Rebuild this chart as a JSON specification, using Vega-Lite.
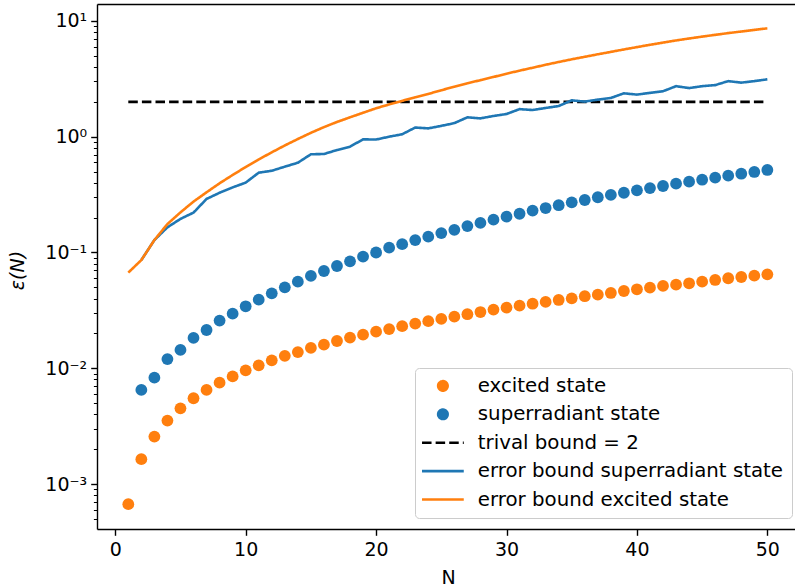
{
  "$schema": "https://vega.github.io/schema/vega-lite/v6.json",
  "width": 698,
  "height": 525,
  "autosize": {"type": "none"},
  "padding": {"left": 97, "top": 4, "right": 0, "bottom": 59},
  "config": {
    "view": {"stroke": null},
    "font": "DejaVu Sans",
    "axis": {"labelFont": "DejaVu Sans", "labelFontSize": 19, "labelColor": "#000000", "titleFont": "DejaVu Sans", "titleFontSize": 19, "titleFontWeight": "normal", "titleColor": "#000000", "domainColor": "#000000", "domainWidth": 1.4, "tickColor": "#000000", "tickWidth": 1.4, "tickSize": 6.3, "grid": false, "labelPadding": 4},
    "legend": {"labelFontSize": 19.8, "labelFont": "DejaVu Sans", "labelColor": "#000000", "labelLimit": 0, "symbolSize": 90, "symbolStrokeWidth": 2.6, "symbolOffset": 10, "labelOffset": 25, "rowPadding": 7.4, "padding": 8, "strokeColor": "#cccccc", "fillColor": "rgba(255,255,255,0.8)", "cornerRadius": 4, "symbolOpacity": 1}
  },
  "datasets": {
    "pts": [
      {"N": 1, "v": 0.00067, "s": "excited state"},
      {"N": 2, "v": 0.00164, "s": "excited state"},
      {"N": 3, "v": 0.00257, "s": "excited state"},
      {"N": 4, "v": 0.00353, "s": "excited state"},
      {"N": 5, "v": 0.00451, "s": "excited state"},
      {"N": 6, "v": 0.00551, "s": "excited state"},
      {"N": 7, "v": 0.0065, "s": "excited state"},
      {"N": 8, "v": 0.00751, "s": "excited state"},
      {"N": 9, "v": 0.0085, "s": "excited state"},
      {"N": 10, "v": 0.0096, "s": "excited state"},
      {"N": 11, "v": 0.0106, "s": "excited state"},
      {"N": 12, "v": 0.0117, "s": "excited state"},
      {"N": 13, "v": 0.0128, "s": "excited state"},
      {"N": 14, "v": 0.0138, "s": "excited state"},
      {"N": 15, "v": 0.015, "s": "excited state"},
      {"N": 16, "v": 0.016, "s": "excited state"},
      {"N": 17, "v": 0.0172, "s": "excited state"},
      {"N": 18, "v": 0.0184, "s": "excited state"},
      {"N": 19, "v": 0.0195, "s": "excited state"},
      {"N": 20, "v": 0.0207, "s": "excited state"},
      {"N": 21, "v": 0.0218, "s": "excited state"},
      {"N": 22, "v": 0.0231, "s": "excited state"},
      {"N": 23, "v": 0.0243, "s": "excited state"},
      {"N": 24, "v": 0.0255, "s": "excited state"},
      {"N": 25, "v": 0.0267, "s": "excited state"},
      {"N": 26, "v": 0.0279, "s": "excited state"},
      {"N": 27, "v": 0.0293, "s": "excited state"},
      {"N": 28, "v": 0.0306, "s": "excited state"},
      {"N": 29, "v": 0.0321, "s": "excited state"},
      {"N": 30, "v": 0.0334, "s": "excited state"},
      {"N": 31, "v": 0.0347, "s": "excited state"},
      {"N": 32, "v": 0.0361, "s": "excited state"},
      {"N": 33, "v": 0.0374, "s": "excited state"},
      {"N": 34, "v": 0.0389, "s": "excited state"},
      {"N": 35, "v": 0.0402, "s": "excited state"},
      {"N": 36, "v": 0.0419, "s": "excited state"},
      {"N": 37, "v": 0.0432, "s": "excited state"},
      {"N": 38, "v": 0.0447, "s": "excited state"},
      {"N": 39, "v": 0.0465, "s": "excited state"},
      {"N": 40, "v": 0.0481, "s": "excited state"},
      {"N": 41, "v": 0.0497, "s": "excited state"},
      {"N": 42, "v": 0.0514, "s": "excited state"},
      {"N": 43, "v": 0.0527, "s": "excited state"},
      {"N": 44, "v": 0.0542, "s": "excited state"},
      {"N": 45, "v": 0.056, "s": "excited state"},
      {"N": 46, "v": 0.0579, "s": "excited state"},
      {"N": 47, "v": 0.0599, "s": "excited state"},
      {"N": 48, "v": 0.0614, "s": "excited state"},
      {"N": 49, "v": 0.0631, "s": "excited state"},
      {"N": 50, "v": 0.0648, "s": "excited state"},
      {"N": 2, "v": 0.0065, "s": "superradiant state"},
      {"N": 3, "v": 0.0083, "s": "superradiant state"},
      {"N": 4, "v": 0.012, "s": "superradiant state"},
      {"N": 5, "v": 0.0144, "s": "superradiant state"},
      {"N": 6, "v": 0.0183, "s": "superradiant state"},
      {"N": 7, "v": 0.0214, "s": "superradiant state"},
      {"N": 8, "v": 0.0258, "s": "superradiant state"},
      {"N": 9, "v": 0.0296, "s": "superradiant state"},
      {"N": 10, "v": 0.0343, "s": "superradiant state"},
      {"N": 11, "v": 0.0391, "s": "superradiant state"},
      {"N": 12, "v": 0.0444, "s": "superradiant state"},
      {"N": 13, "v": 0.05, "s": "superradiant state"},
      {"N": 14, "v": 0.056, "s": "superradiant state"},
      {"N": 15, "v": 0.0627, "s": "superradiant state"},
      {"N": 16, "v": 0.0692, "s": "superradiant state"},
      {"N": 17, "v": 0.0764, "s": "superradiant state"},
      {"N": 18, "v": 0.0839, "s": "superradiant state"},
      {"N": 19, "v": 0.092, "s": "superradiant state"},
      {"N": 20, "v": 0.1, "s": "superradiant state"},
      {"N": 21, "v": 0.11, "s": "superradiant state"},
      {"N": 22, "v": 0.118, "s": "superradiant state"},
      {"N": 23, "v": 0.128, "s": "superradiant state"},
      {"N": 24, "v": 0.137, "s": "superradiant state"},
      {"N": 25, "v": 0.147, "s": "superradiant state"},
      {"N": 26, "v": 0.157, "s": "superradiant state"},
      {"N": 27, "v": 0.169, "s": "superradiant state"},
      {"N": 28, "v": 0.18, "s": "superradiant state"},
      {"N": 29, "v": 0.192, "s": "superradiant state"},
      {"N": 30, "v": 0.204, "s": "superradiant state"},
      {"N": 31, "v": 0.216, "s": "superradiant state"},
      {"N": 32, "v": 0.23, "s": "superradiant state"},
      {"N": 33, "v": 0.242, "s": "superradiant state"},
      {"N": 34, "v": 0.256, "s": "superradiant state"},
      {"N": 35, "v": 0.271, "s": "superradiant state"},
      {"N": 36, "v": 0.284, "s": "superradiant state"},
      {"N": 37, "v": 0.3, "s": "superradiant state"},
      {"N": 38, "v": 0.314, "s": "superradiant state"},
      {"N": 39, "v": 0.328, "s": "superradiant state"},
      {"N": 40, "v": 0.344, "s": "superradiant state"},
      {"N": 41, "v": 0.36, "s": "superradiant state"},
      {"N": 42, "v": 0.375, "s": "superradiant state"},
      {"N": 43, "v": 0.393, "s": "superradiant state"},
      {"N": 44, "v": 0.409, "s": "superradiant state"},
      {"N": 45, "v": 0.425, "s": "superradiant state"},
      {"N": 46, "v": 0.443, "s": "superradiant state"},
      {"N": 47, "v": 0.461, "s": "superradiant state"},
      {"N": 48, "v": 0.479, "s": "superradiant state"},
      {"N": 49, "v": 0.496, "s": "superradiant state"},
      {"N": 50, "v": 0.516, "s": "superradiant state"}
    ],
    "lines": [
      {"N": 1, "v": 2, "s": "trival bound = 2"},
      {"N": 50, "v": 2, "s": "trival bound = 2"},
      {"N": 2, "v": 0.086, "s": "error bound superradiant state"},
      {"N": 3, "v": 0.128, "s": "error bound superradiant state"},
      {"N": 4, "v": 0.165, "s": "error bound superradiant state"},
      {"N": 5, "v": 0.195, "s": "error bound superradiant state"},
      {"N": 6, "v": 0.221, "s": "error bound superradiant state"},
      {"N": 7, "v": 0.29, "s": "error bound superradiant state"},
      {"N": 8, "v": 0.328, "s": "error bound superradiant state"},
      {"N": 9, "v": 0.365, "s": "error bound superradiant state"},
      {"N": 10, "v": 0.401, "s": "error bound superradiant state"},
      {"N": 11, "v": 0.489, "s": "error bound superradiant state"},
      {"N": 12, "v": 0.508, "s": "error bound superradiant state"},
      {"N": 13, "v": 0.551, "s": "error bound superradiant state"},
      {"N": 14, "v": 0.596, "s": "error bound superradiant state"},
      {"N": 15, "v": 0.705, "s": "error bound superradiant state"},
      {"N": 16, "v": 0.709, "s": "error bound superradiant state"},
      {"N": 17, "v": 0.767, "s": "error bound superradiant state"},
      {"N": 18, "v": 0.82, "s": "error bound superradiant state"},
      {"N": 19, "v": 0.949, "s": "error bound superradiant state"},
      {"N": 20, "v": 0.945, "s": "error bound superradiant state"},
      {"N": 21, "v": 1.0, "s": "error bound superradiant state"},
      {"N": 22, "v": 1.05, "s": "error bound superradiant state"},
      {"N": 23, "v": 1.2, "s": "error bound superradiant state"},
      {"N": 24, "v": 1.18, "s": "error bound superradiant state"},
      {"N": 25, "v": 1.24, "s": "error bound superradiant state"},
      {"N": 26, "v": 1.31, "s": "error bound superradiant state"},
      {"N": 27, "v": 1.47, "s": "error bound superradiant state"},
      {"N": 28, "v": 1.44, "s": "error bound superradiant state"},
      {"N": 29, "v": 1.51, "s": "error bound superradiant state"},
      {"N": 30, "v": 1.57, "s": "error bound superradiant state"},
      {"N": 31, "v": 1.73, "s": "error bound superradiant state"},
      {"N": 32, "v": 1.7, "s": "error bound superradiant state"},
      {"N": 33, "v": 1.77, "s": "error bound superradiant state"},
      {"N": 34, "v": 1.84, "s": "error bound superradiant state"},
      {"N": 35, "v": 2.06, "s": "error bound superradiant state"},
      {"N": 36, "v": 2.01, "s": "error bound superradiant state"},
      {"N": 37, "v": 2.09, "s": "error bound superradiant state"},
      {"N": 38, "v": 2.16, "s": "error bound superradiant state"},
      {"N": 39, "v": 2.37, "s": "error bound superradiant state"},
      {"N": 40, "v": 2.31, "s": "error bound superradiant state"},
      {"N": 41, "v": 2.39, "s": "error bound superradiant state"},
      {"N": 42, "v": 2.47, "s": "error bound superradiant state"},
      {"N": 43, "v": 2.73, "s": "error bound superradiant state"},
      {"N": 44, "v": 2.63, "s": "error bound superradiant state"},
      {"N": 45, "v": 2.73, "s": "error bound superradiant state"},
      {"N": 46, "v": 2.79, "s": "error bound superradiant state"},
      {"N": 47, "v": 3.02, "s": "error bound superradiant state"},
      {"N": 48, "v": 2.93, "s": "error bound superradiant state"},
      {"N": 49, "v": 3.02, "s": "error bound superradiant state"},
      {"N": 50, "v": 3.13, "s": "error bound superradiant state"},
      {"N": 1, "v": 0.067, "s": "error bound excited state"},
      {"N": 2, "v": 0.086, "s": "error bound excited state"},
      {"N": 3, "v": 0.128, "s": "error bound excited state"},
      {"N": 4, "v": 0.176, "s": "error bound excited state"},
      {"N": 5, "v": 0.222, "s": "error bound excited state"},
      {"N": 6, "v": 0.275, "s": "error bound excited state"},
      {"N": 7, "v": 0.331, "s": "error bound excited state"},
      {"N": 8, "v": 0.396, "s": "error bound excited state"},
      {"N": 9, "v": 0.467, "s": "error bound excited state"},
      {"N": 10, "v": 0.547, "s": "error bound excited state"},
      {"N": 11, "v": 0.636, "s": "error bound excited state"},
      {"N": 12, "v": 0.733, "s": "error bound excited state"},
      {"N": 13, "v": 0.84, "s": "error bound excited state"},
      {"N": 14, "v": 0.955, "s": "error bound excited state"},
      {"N": 15, "v": 1.08, "s": "error bound excited state"},
      {"N": 16, "v": 1.21, "s": "error bound excited state"},
      {"N": 17, "v": 1.34, "s": "error bound excited state"},
      {"N": 18, "v": 1.47, "s": "error bound excited state"},
      {"N": 19, "v": 1.61, "s": "error bound excited state"},
      {"N": 20, "v": 1.76, "s": "error bound excited state"},
      {"N": 21, "v": 1.9, "s": "error bound excited state"},
      {"N": 22, "v": 2.04, "s": "error bound excited state"},
      {"N": 23, "v": 2.19, "s": "error bound excited state"},
      {"N": 24, "v": 2.34, "s": "error bound excited state"},
      {"N": 25, "v": 2.52, "s": "error bound excited state"},
      {"N": 26, "v": 2.7, "s": "error bound excited state"},
      {"N": 27, "v": 2.89, "s": "error bound excited state"},
      {"N": 28, "v": 3.08, "s": "error bound excited state"},
      {"N": 29, "v": 3.28, "s": "error bound excited state"},
      {"N": 30, "v": 3.5, "s": "error bound excited state"},
      {"N": 31, "v": 3.72, "s": "error bound excited state"},
      {"N": 32, "v": 3.94, "s": "error bound excited state"},
      {"N": 33, "v": 4.18, "s": "error bound excited state"},
      {"N": 34, "v": 4.42, "s": "error bound excited state"},
      {"N": 35, "v": 4.66, "s": "error bound excited state"},
      {"N": 36, "v": 4.9, "s": "error bound excited state"},
      {"N": 37, "v": 5.15, "s": "error bound excited state"},
      {"N": 38, "v": 5.4, "s": "error bound excited state"},
      {"N": 39, "v": 5.67, "s": "error bound excited state"},
      {"N": 40, "v": 5.94, "s": "error bound excited state"},
      {"N": 41, "v": 6.22, "s": "error bound excited state"},
      {"N": 42, "v": 6.5, "s": "error bound excited state"},
      {"N": 43, "v": 6.78, "s": "error bound excited state"},
      {"N": 44, "v": 7.05, "s": "error bound excited state"},
      {"N": 45, "v": 7.32, "s": "error bound excited state"},
      {"N": 46, "v": 7.58, "s": "error bound excited state"},
      {"N": 47, "v": 7.85, "s": "error bound excited state"},
      {"N": 48, "v": 8.1, "s": "error bound excited state"},
      {"N": 49, "v": 8.37, "s": "error bound excited state"},
      {"N": 50, "v": 8.63, "s": "error bound excited state"}
    ]
  },
  "layer": [
    {
      "data": {"name": "pts"},
      "mark": {"type": "point", "filled": true, "opacity": 1, "size": 139},
      "encoding": {
        "x": {"field": "N", "type": "quantitative",
          "scale": {"domain": [-1.4, 52.12], "nice": false, "zero": false},
          "axis": {"orient": "bottom", "values": [0, 10, 20, 30, 40, 50], "format": "d", "labelPadding": 5, "title": "N", "titleX": 351, "titleY": 48, "titleBaseline": "middle", "titleAlign": "center"}},
        "y": {"field": "v", "type": "quantitative",
          "scale": {"type": "log", "domain": [0.000409, 14.0], "nice": false},
          "axis": {"orient": "left", "values": [0.001, 0.01, 0.1, 1, 10], "labelExpr": "datum.value > 5 ? '10¹' : datum.value > 0.5 ? '10⁰' : datum.value > 0.05 ? '10⁻¹' : datum.value > 0.005 ? '10⁻²' : '10⁻³'", "title": "ε(N)", "titleFontStyle": "italic", "titleX": -80, "titleY": 266, "titleAngle": -90, "titleBaseline": "middle", "titleAlign": "center"}},
        "color": {"field": "s", "type": "nominal",
          "scale": {"domain": ["excited state", "superradiant state", "trival bound = 2", "error bound superradiant state", "error bound excited state"], "range": ["#ff7f0e", "#1f77b4", "#000000", "#1f77b4", "#ff7f0e"]},
          "legend": {"title": null, "orient": "none", "legendX": 318, "legendY": 364, "labelFontSize": 19.8, "symbolOffset": 10, "labelOffset": 25, "rowPadding": 7.4, "padding": 8}},
        "shape": {"field": "s", "type": "nominal",
          "scale": {"domain": ["excited state", "superradiant state", "trival bound = 2", "error bound superradiant state", "error bound excited state"], "range": ["circle", "circle", "M-4.4,0H4.4", "M-4.4,0H4.4", "M-4.4,0H4.4"]},
          "legend": {"title": null, "orient": "none", "legendX": 318, "legendY": 364, "labelFontSize": 19.8, "symbolOffset": 10, "labelOffset": 25, "rowPadding": 7.4, "padding": 8}}
      }
    },
    {
      "data": {"name": "lines"},
      "mark": {"type": "line", "strokeWidth": 2.6},
      "encoding": {
        "x": {"field": "N", "type": "quantitative",
          "scale": {"domain": [-1.4, 52.12], "nice": false, "zero": false},
          "axis": {"orient": "top", "ticks": false, "labels": false, "title": null, "domain": true}},
        "y": {"field": "v", "type": "quantitative",
          "scale": {"type": "log", "domain": [0.000409, 14.0], "nice": false},
          "axis": {"orient": "left", "values": [0.0005, 0.0006, 0.0007, 0.0008, 0.0009, 0.002, 0.003, 0.004, 0.005, 0.006, 0.007, 0.008, 0.009, 0.02, 0.03, 0.04, 0.05, 0.06, 0.07, 0.08, 0.09, 0.2, 0.3, 0.4, 0.5, 0.6, 0.7, 0.8, 0.9, 2, 3, 4, 5, 6, 7, 8, 9], "labels": false, "domain": false, "tickSize": 3.6, "tickWidth": 1, "title": null}},
        "color": {"field": "s", "type": "nominal",
          "scale": {"domain": ["excited state", "superradiant state", "trival bound = 2", "error bound superradiant state", "error bound excited state"], "range": ["#ff7f0e", "#1f77b4", "#000000", "#1f77b4", "#ff7f0e"]},
          "legend": {"title": null, "orient": "none", "legendX": 318, "legendY": 364, "labelFontSize": 19.8, "symbolOffset": 10, "labelOffset": 25, "rowPadding": 7.4, "padding": 8}},
        "strokeDash": {"field": "s", "type": "nominal",
          "scale": {"domain": ["excited state", "superradiant state", "trival bound = 2", "error bound superradiant state", "error bound excited state"], "range": [[1, 0], [1, 0], [9.5, 4.1], [1, 0], [1, 0]]},
          "legend": {"title": null, "orient": "none", "legendX": 318, "legendY": 364, "labelFontSize": 19.8, "symbolOffset": 10, "labelOffset": 25, "rowPadding": 7.4, "padding": 8}}
      }
    }
  ],
  "resolve": {"axis": {"x": "independent", "y": "independent"}}
}
